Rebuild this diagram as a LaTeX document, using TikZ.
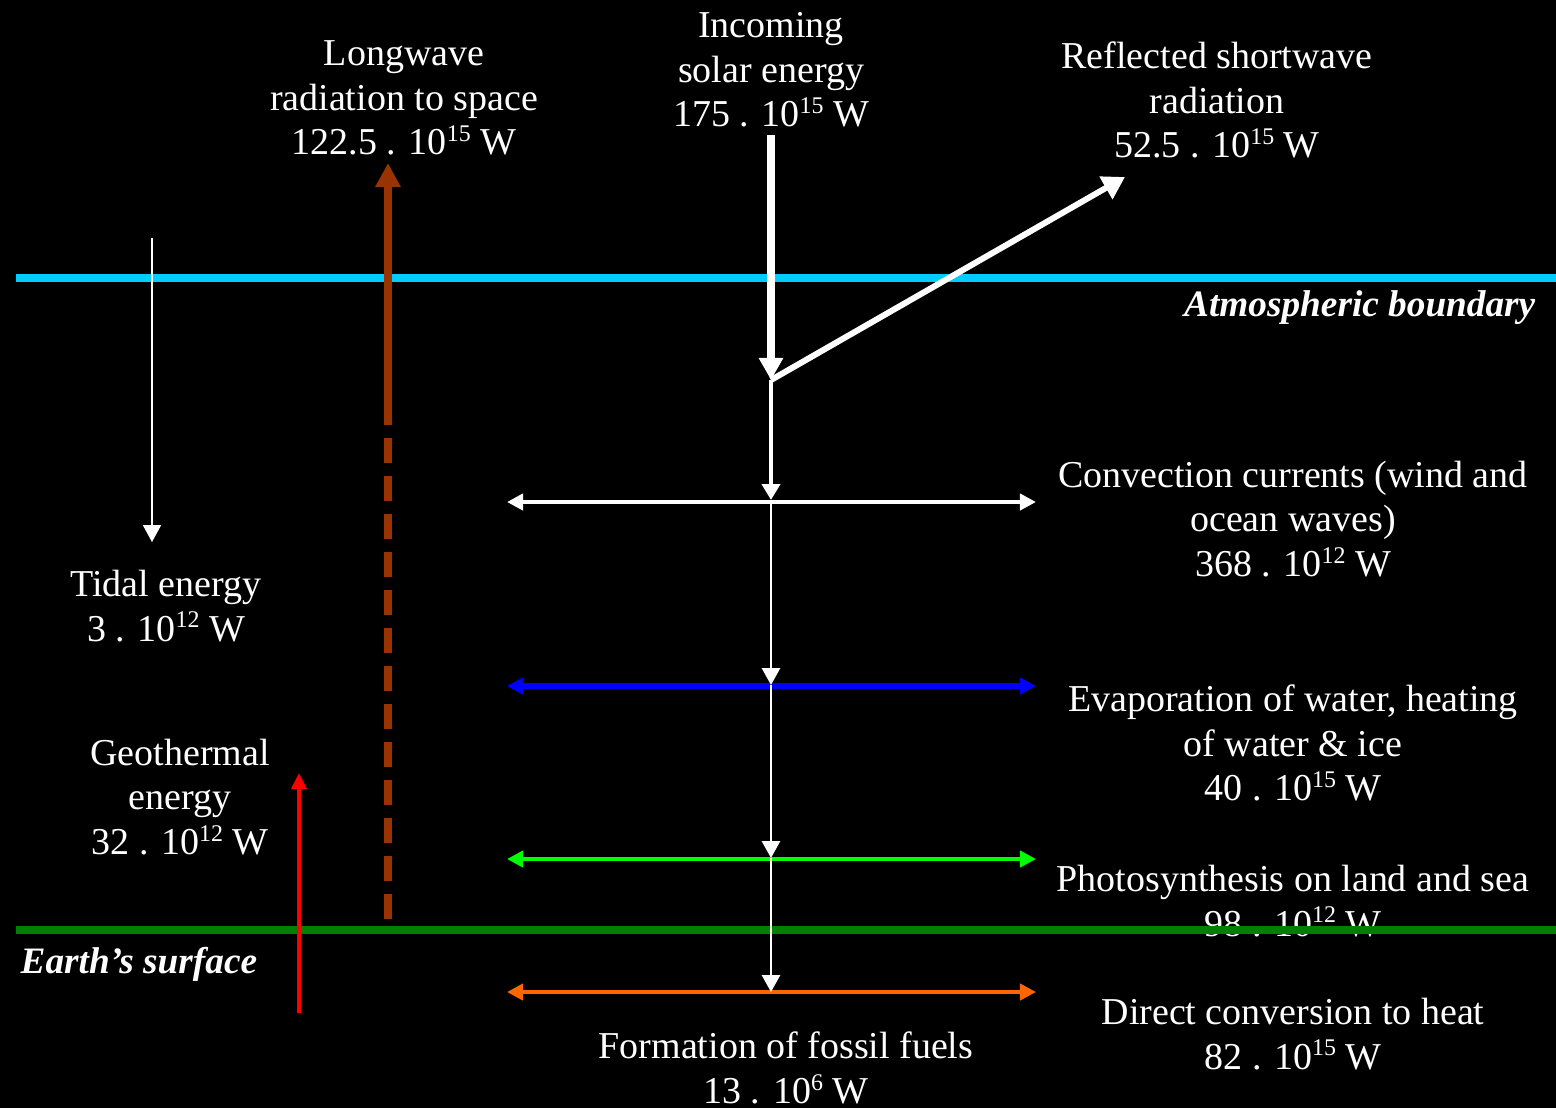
\documentclass[tikz,border=0pt]{standalone}
\usepackage{fontspec}
\setmainfont{Liberation Serif}
\usetikzlibrary{arrows.meta}
\definecolor{skyline}{RGB}{0,204,255}
\definecolor{groundline}{RGB}{0,128,0}
\definecolor{rust}{RGB}{153,51,0}
\definecolor{leaf}{RGB}{0,255,0}
\definecolor{flame}{RGB}{255,102,0}
\newcommand{\tenp}[1]{10\raisebox{0.75ex}{\fontsize{6.8}{7}\selectfont #1}~W}

\begin{document}
\begin{tikzpicture}[x=0.01cm, y=-0.01cm,
    txt/.style={text=white, align=center, inner sep=0pt, font=\fontsize{10.8}{12.6}\selectfont},
    tag/.style={text=white, inner sep=0pt, font=\fontsize{10.6}{12.6}\selectfont\bfseries\itshape},
    flow/.style={draw=white, -{Triangle[width=0.18cm, length=0.17cm]}},
    both/.style={{Triangle[width=0.16cm, length=0.16cm]}-{Triangle[width=0.16cm, length=0.16cm]}, line width=1.14pt}
  ]
    \def\bandwidth{2.3pt}
  \fill[black] (0,0) rectangle (1556,1108);
  \useasboundingbox (0,0) rectangle (1556,1108);

  % texts
  \node[txt] (longwave) at (404,98) {Longwave\\radiation to space\\122.5 . \tenp{15}};
  \node[txt] (incoming) at (771,70) {Incoming\\solar energy\\175 . \tenp{15}};
  \node[txt] (reflected) at (1217,100) {Reflected shortwave\\radiation\\52.5 . \tenp{15}};
  \node[txt] (convection) at (1293,519) {Convection currents (wind and\\ocean waves)\\368 . \tenp{12}};
  \node[txt] (tidal) at (166,606) {Tidal energy\\3 . \tenp{12}};
  \node[txt] (evaporation) at (1293,743) {Evaporation of water, heating\\of water \& ice\\40 . \tenp{15}};
  \node[txt] (geothermal) at (180,797) {Geothermal\\energy\\32 . \tenp{12}};
  \node[txt] (photo) at (1293,901) {Photosynthesis on land and sea\\98 . \tenp{12}};
  \node[txt] (direct) at (1293,1034) {Direct conversion to heat\\82 . \tenp{15}};
  \node[txt] (fossil) at (786,1068) {Formation of fossil fuels\\13 . \tenp{6}};
  \node[tag, anchor=east] (atmos) at (1536,308) {Atmospheric boundary};
  \node[tag, anchor=west] (earth) at (20,964) {Earth’s surface};

  % boundaries
  \coordinate (atm-l) at (16,278);
  \coordinate (atm-r) at (1556,278);
  \coordinate (gnd-l) at (16,930);
  \coordinate (gnd-r) at (1556,930);
  \draw[skyline, line width=\bandwidth] (atm-l) -- (atm-r);
  \draw[groundline, line width=\bandwidth] (gnd-l) -- (gnd-r);

  % points on the main path
  \coordinate (sun) at (771,135);
  \coordinate (hit) at (771,380);
  \coordinate (out) at (1125,177);
  \coordinate (c1) at (771,500);
  \coordinate (c2) at (771,685);
  \coordinate (c3) at (771,858);
  \coordinate (c4) at (771,992);

  % longwave
  \coordinate (lw-top) at (388,163);
  \coordinate (lw-mid) at (388,400);
  \coordinate (lw-foot) at (388,928);
  \draw[rust, line width=2.28pt, dash pattern={on 0.25cm off 0.13cm}] (lw-mid) -- (lw-foot);
  \draw[rust, line width=2.28pt, -{Triangle[width=0.24cm, length=0.24cm]}] (lw-mid) -- (lw-top);

  % tidal and geothermal
  \coordinate (td-top) at (152,238);
  \coordinate (td-bot) at (152,542);
  \coordinate (gt-bot) at (299,1013);
  \coordinate (gt-top) at (299,773);
  \draw[flow, line width=0.57pt] (td-top) -- (td-bot);
  \draw[red, line width=1.14pt, -{Triangle[width=0.15cm, length=0.16cm]}] (gt-bot) -- (gt-top);

  % horizontal double arrows
  \draw[both, white] (507,502) coordinate (h1l) -- (1036,502) coordinate (h1r);
  \draw[both, blue, line width=1.7pt] (507,686) coordinate (h2l) -- (1036,686) coordinate (h2r);
  \draw[both, leaf] (507,859) coordinate (h3l) -- (1036,859) coordinate (h3r);
  \draw[both, flame] (507,992) coordinate (h4l) -- (1036,992) coordinate (h4r);

  % incoming and reflected
  \draw[flow, line width=2.28pt, -{Triangle[width=0.23cm, length=0.22cm]}] (sun) -- (hit);
  \draw[flow, line width=1.7pt, -{Triangle[width=0.25cm, length=0.22cm]}] (hit) -- (out);
  \draw[flow, line width=1.42pt, -{Triangle[width=0.18cm, length=0.16cm]}] (hit) -- (c1);
  \draw[flow, line width=0.85pt] (c1) -- (c2);
  \draw[flow, line width=0.85pt] (c2) -- (c3);
  \draw[flow, line width=0.85pt] (c3) -- (c4);
  \end{tikzpicture}
\end{document}
